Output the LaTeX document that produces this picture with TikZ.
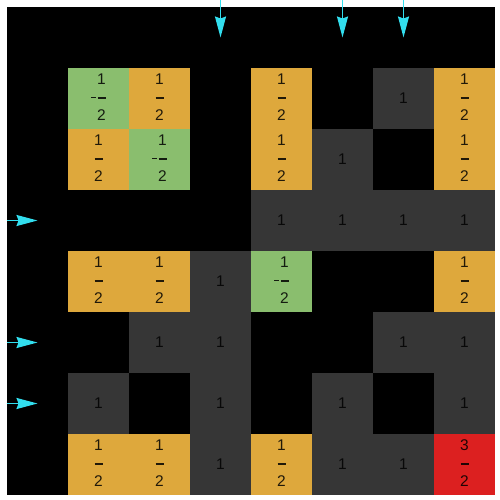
\documentclass[tikz,border=0pt]{standalone}
\usepackage{fontspec}
\setmainfont{Liberation Sans}
\usetikzlibrary{arrows.meta}
\definecolor{cellgreen}{RGB}{138,190,110}
\definecolor{cellorange}{RGB}{222,168,60}
\definecolor{cellgray}{RGB}{54,54,54}
\definecolor{cellred}{RGB}{220,32,32}
\definecolor{feedcyan}{RGB}{50,222,238}
\newcommand{\fbar}{\rule[3.5pt]{8pt}{2pt}}
\newcommand{\pfrac}[2]{\begin{tabular}{@{}c@{}}#1\\\fbar\\#2\end{tabular}}
\newcommand{\nfrac}[2]{\begin{tabular}{@{}r@{}}#1\\\rule[3.7pt]{5pt}{1.6pt}\hspace{1.5pt}\fbar\\#2\end{tabular}}
\tikzset{
  cell/.style={rectangle,minimum size=61pt,inner sep=0pt,text=black,
    text opacity=0.85,font=\fontsize{15.5}{18}\selectfont},
  halfcell/.style={cell,fill=cellorange},
  negcell/.style={cell,fill=cellgreen},
  onecell/.style={cell,fill=cellgray},
  maxcell/.style={cell,fill=cellred},
  feed/.style={draw=feedcyan,line width=1.6pt,
    -{Stealth[length=21pt,width=11pt,inset=2pt]}}
}

\begin{document}
\begin{tikzpicture}[x=61pt,y=61pt]
\useasboundingbox (-0.115,-0.082) rectangle (8.082,8.115);
\fill[black] (0,0) rectangle (8,8);

% row 1
\node[negcell] (c11) at (1.5,6.5) {\nfrac{1}{2}};
\node[halfcell] (c12) at (2.5,6.5) {\pfrac{1}{2}};
\node[halfcell] (c14) at (4.5,6.5) {\pfrac{1}{2}};
\node[onecell] (c16) at (6.5,6.5) {1};
\node[halfcell] (c17) at (7.5,6.5) {\pfrac{1}{2}};
% row 2
\node[halfcell] (c21) at (1.5,5.5) {\pfrac{1}{2}};
\node[negcell] (c22) at (2.5,5.5) {\nfrac{1}{2}};
\node[halfcell] (c24) at (4.5,5.5) {\pfrac{1}{2}};
\node[onecell] (c25) at (5.5,5.5) {1};
\node[halfcell] (c27) at (7.5,5.5) {\pfrac{1}{2}};
% row 3
\node[onecell] (c34) at (4.5,4.5) {1};
\node[onecell] (c35) at (5.5,4.5) {1};
\node[onecell] (c36) at (6.5,4.5) {1};
\node[onecell] (c37) at (7.5,4.5) {1};
% row 4
\node[halfcell] (c41) at (1.5,3.5) {\pfrac{1}{2}};
\node[halfcell] (c42) at (2.5,3.5) {\pfrac{1}{2}};
\node[onecell] (c43) at (3.5,3.5) {1};
\node[negcell] (c44) at (4.5,3.5) {\nfrac{1}{2}};
\node[halfcell] (c47) at (7.5,3.5) {\pfrac{1}{2}};
% row 5
\node[onecell] (c52) at (2.5,2.5) {1};
\node[onecell] (c53) at (3.5,2.5) {1};
\node[onecell] (c56) at (6.5,2.5) {1};
\node[onecell] (c57) at (7.5,2.5) {1};
% row 6
\node[onecell] (c61) at (1.5,1.5) {1};
\node[onecell] (c63) at (3.5,1.5) {1};
\node[onecell] (c65) at (5.5,1.5) {1};
\node[onecell] (c67) at (7.5,1.5) {1};
% row 7
\node[halfcell] (c71) at (1.5,0.5) {\pfrac{1}{2}};
\node[halfcell] (c72) at (2.5,0.5) {\pfrac{1}{2}};
\node[onecell] (c73) at (3.5,0.5) {1};
\node[halfcell] (c74) at (4.5,0.5) {\pfrac{1}{2}};
\node[onecell] (c75) at (5.5,0.5) {1};
\node[onecell] (c76) at (6.5,0.5) {1};
\node[maxcell] (c77) at (7.5,0.5) {\pfrac{3}{2}};

% feeds from the top
\coordinate (in3) at (3.5,8.115); \coordinate (at3) at (3.5,7.5);
\coordinate (in5) at (5.5,8.115); \coordinate (at5) at (5.5,7.5);
\coordinate (in6) at (6.5,8.115); \coordinate (at6) at (6.5,7.5);
\draw[feed] (in3) -- (at3);
\draw[feed] (in5) -- (at5);
\draw[feed] (in6) -- (at6);
% feeds from the left
\coordinate (left3) at (0,4.5); \coordinate (end3) at (0.5,4.5);
\coordinate (left5) at (0,2.5); \coordinate (end5) at (0.5,2.5);
\coordinate (left6) at (0,1.5); \coordinate (end6) at (0.5,1.5);
\draw[feed] (left3) -- (end3);
\draw[feed] (left5) -- (end5);
\draw[feed] (left6) -- (end6);
\end{tikzpicture}
\end{document}
